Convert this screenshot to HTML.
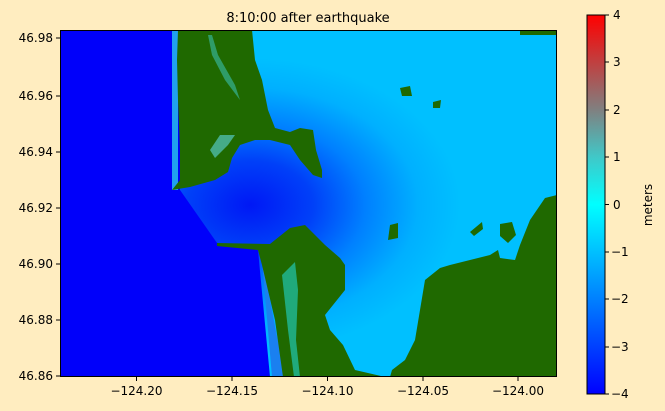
<!DOCTYPE html><html><head><style>body{margin:0;background:#ffedc0;}svg{display:block;font-family:"DejaVu Sans","Liberation Sans",sans-serif;}</style></head><body>
<svg width="665" height="411" xmlns="http://www.w3.org/2000/svg">
<defs>
<radialGradient id="mouth" cx="250" cy="205" r="210" gradientUnits="userSpaceOnUse" gradientTransform="translate(250,205) scale(1,0.7) translate(-250,-205)"><stop offset="0" stop-color="#0018f5"/><stop offset="0.3" stop-color="#0040f8"/><stop offset="0.55" stop-color="#0080ff"/><stop offset="0.8" stop-color="#00b0ff"/><stop offset="1" stop-color="#00c0ff"/></radialGradient>
<linearGradient id="cb" x1="0" x2="0" y1="1" y2="0">
<stop offset="0" stop-color="#0000ff"/><stop offset="0.25" stop-color="#0080ff"/><stop offset="0.375" stop-color="#00c0ff"/><stop offset="0.5" stop-color="#00ffff"/><stop offset="0.625" stop-color="#40c8c8"/><stop offset="0.75" stop-color="#808080"/><stop offset="0.875" stop-color="#c04040"/><stop offset="1" stop-color="#ff0000"/></linearGradient>
<clipPath id="c"><rect x="60" y="30" width="497" height="347"/></clipPath>
</defs>
<text x="308" y="22" font-size="13" text-anchor="middle">8:10:00 after earthquake</text>
<g clip-path="url(#c)">
<rect x="60" y="30" width="497" height="347" fill="#00c0ff"/>
<rect x="60" y="30" width="497" height="347" fill="url(#mouth)"/>
<path d="M60,30 L180,30 L180,190 L217,243 L258,250 L270,377 L60,377Z" fill="#0000fa"/>
<rect x="172" y="30" width="6" height="160" fill="#20a0f0"/>
<path d="M262,260 L285,377 L272,377Z" fill="#1a80f0"/>
<g fill="#1f6900">
<path d="M178,30 L252,30 L255,60 L262,80 L268,110 L275,128 L290,132 L300,128 L313,130 L316,150 L322,170 L322,178 L313,175 L300,160 L290,145 L270,140 L255,140 L240,145 L232,158 L228,172 L215,180 L190,187 L172,190 L180,180 L180,150 L178,100 L177,60Z"/>
<path d="M217,243 L270,244 L290,228 L305,225 L315,235 L325,245 L340,258 L345,265 L345,290 L325,315 L330,330 L343,345 L355,370 L385,377 L283,377 L275,320 L262,265 L258,250 L217,246Z"/>
<path d="M390,377 L392,370 L405,360 L415,340 L420,310 L425,280 L440,268 L450,265 L470,260 L490,255 L498,250 L500,258 L515,260 L520,245 L530,220 L545,198 L557,195 L557,377Z"/>
<path d="M500,224 L512,222 L516,235 L508,243 L500,236Z"/>
<path d="M390,225 L398,223 L398,238 L388,240Z"/>
<path d="M470,232 L482,222 L483,229 L474,236Z"/>
<path d="M400,88 L410,86 L412,96 L402,96Z"/>
<path d="M433,102 L441,100 L440,108 L433,108Z"/>
<path d="M520,30 L557,30 L557,35 L520,35Z"/>
</g>
<path d="M210,150 L220,135 L235,135 L228,145 L215,158Z" fill="#55c8c0" opacity="0.7"/>
<path d="M282,275 L295,262 L298,290 L296,340 L300,377 L294,377 L288,330Z" fill="#20e0e0" opacity="0.55"/>
<path d="M208,35 L212,55 L225,80 L240,100 L235,85 L218,55 L212,35Z" fill="#40d0d0" opacity="0.5"/>
</g>
<rect x="60.5" y="30.5" width="496" height="346" fill="none" stroke="#000" stroke-width="1"/>
<g font-size="12" text-anchor="end">
<g stroke="#000"><line x1="56" x2="60" y1="38" y2="38"/><line x1="56" x2="60" y1="96" y2="96"/><line x1="56" x2="60" y1="152" y2="152"/><line x1="56" x2="60" y1="208" y2="208"/><line x1="56" x2="60" y1="264" y2="264"/><line x1="56" x2="60" y1="320" y2="320"/><line x1="56" x2="60" y1="376" y2="376"/></g>
<text x="53" y="42">46.98</text><text x="53" y="100">46.96</text><text x="53" y="156">46.94</text><text x="53" y="212">46.92</text><text x="53" y="268">46.90</text><text x="53" y="324">46.88</text><text x="53" y="380">46.86</text>
</g>
<g font-size="12" text-anchor="middle">
<g stroke="#000"><line x1="136.5" x2="136.5" y1="377" y2="381"/><line x1="232" x2="232" y1="377" y2="381"/><line x1="327.5" x2="327.5" y1="377" y2="381"/><line x1="423" x2="423" y1="377" y2="381"/><line x1="518" x2="518" y1="377" y2="381"/></g>
<text x="136.5" y="395">−124.20</text><text x="232" y="395">−124.15</text><text x="327.5" y="395">−124.10</text><text x="423" y="395">−124.05</text><text x="518" y="395">−124.00</text>
</g>
<rect x="587" y="15" width="18" height="379" fill="url(#cb)" stroke="#000" stroke-width="1"/>
<g font-size="12">
<g stroke="#000"><line x1="605" x2="609" y1="15" y2="15"/><line x1="605" x2="609" y1="62" y2="62"/><line x1="605" x2="609" y1="110" y2="110"/><line x1="605" x2="609" y1="157" y2="157"/><line x1="605" x2="609" y1="204.5" y2="204.5"/><line x1="605" x2="609" y1="252" y2="252"/><line x1="605" x2="609" y1="299" y2="299"/><line x1="605" x2="609" y1="347" y2="347"/><line x1="605" x2="609" y1="394" y2="394"/></g>
<text x="613" y="19">4</text><text x="613" y="66">3</text><text x="613" y="114">2</text><text x="613" y="161">1</text><text x="613" y="209">0</text><text x="611" y="256">−1</text><text x="611" y="303">−2</text><text x="611" y="351">−3</text><text x="611" y="398">−4</text>
</g>
<text transform="translate(652,205) rotate(-90)" font-size="12" text-anchor="middle">meters</text>
</svg></body></html>
